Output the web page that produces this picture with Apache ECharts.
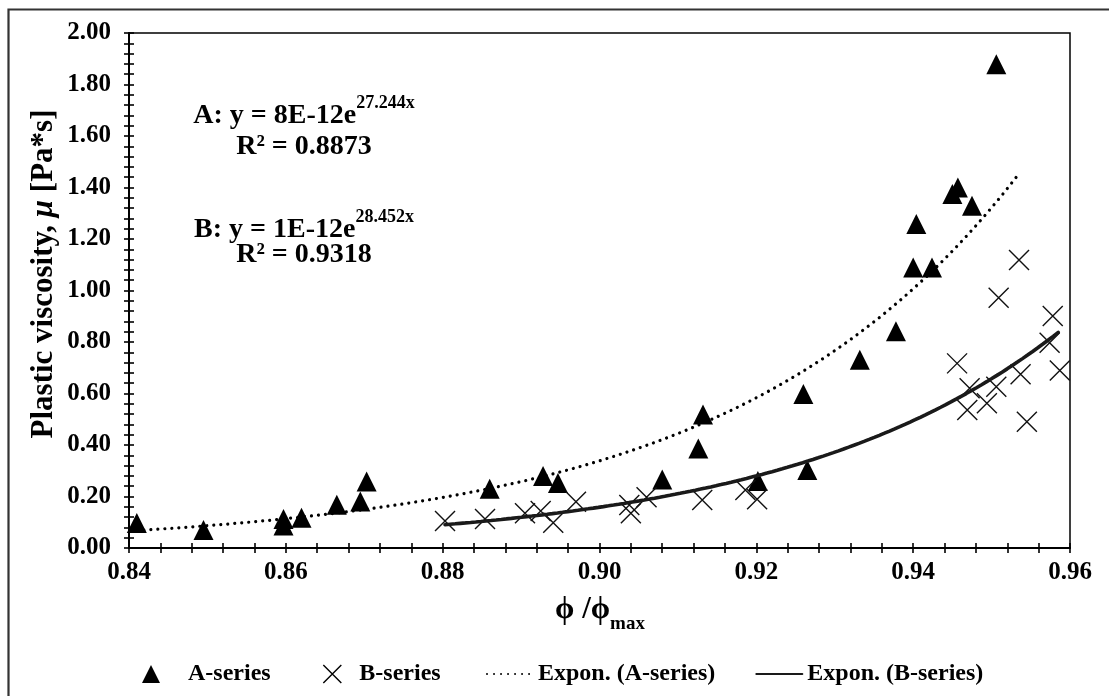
<!DOCTYPE html>
<html>
<head>
<meta charset="utf-8">
<script src="https://cdn.jsdelivr.net/npm/echarts@6/dist/echarts.min.js"></script>
<style>
  html, body { margin: 0; padding: 0; background: #fff; overflow: hidden; }
  #chart { width: 1109px; height: 696px; }
</style>
</head>
<body>
<div id="chart"></div>
<script>
// phi/phi_max and plastic viscosity [Pa*s], A-series mixes
const aPhi = [0.841, 0.8495, 0.8597, 0.8597, 0.862, 0.8665, 0.8695, 0.8703,
              0.886, 0.8928, 0.8947, 0.908, 0.9126, 0.9132, 0.9202, 0.926, 0.9265,
              0.9332, 0.9378, 0.940, 0.9404, 0.9424, 0.945, 0.9457, 0.9475, 0.9506];
const aMu  = [0.097, 0.070, 0.113, 0.087, 0.117, 0.168, 0.181, 0.258,
              0.230, 0.280, 0.252, 0.266, 0.386, 0.518, 0.260, 0.598, 0.303,
              0.731, 0.842, 1.089, 1.258, 1.089, 1.375, 1.400, 1.329, 1.879];

// phi/phi_max and plastic viscosity [Pa*s], B-series mixes
const bPhi = [0.8803, 0.8854, 0.8905, 0.8925, 0.8941, 0.897, 0.9038, 0.904,
              0.906, 0.9131, 0.9186, 0.9201, 0.9456, 0.9469, 0.9472, 0.9494,
              0.9506, 0.9509, 0.9535, 0.9537, 0.9545, 0.9574, 0.9578, 0.9587];
const bMu  = [0.105, 0.113, 0.135, 0.144, 0.098, 0.180, 0.167, 0.135,
              0.197, 0.186, 0.225, 0.189, 0.717, 0.536, 0.620, 0.562,
              0.626, 0.972, 1.118, 0.675, 0.490, 0.797, 0.901, 0.689];

// exponential trend lines y = a * e^(b x); the label prints a to one significant digit
const aTrend = { a: 7.6e-12, b: 27.244, r2: 0.8873, from: 0.841, to: 0.9533 };
const bTrend = { a: 1.2e-12, b: 28.452, r2: 0.9318, from: 0.8803, to: 0.9585 };

// axis ranges and tick spacing
const xRange = { min: 0.84, max: 0.96, step: 0.02 };
const yRange = { min: 0.0, max: 2.0, step: 0.2 };

const SERIF = '"Liberation Serif", "Times New Roman", serif';
const INK = '#000';

function trendPoints(t, n) {
  const pts = [];
  for (let i = 0; i <= n; i++) {
    const x = t.from + (t.to - t.from) * i / n;
    pts.push([x, t.a * Math.exp(t.b * x)]);
  }
  return pts;
}
const zip = (xs, ys) => xs.map((x, i) => [x, ys[i]]);
const coefText = a => a.toExponential(0).replace('e', 'E');

const crossPath = 'path://M0,0L20,20M20,0L0,20';

const chart = echarts.init(document.getElementById('chart'), null, { renderer: 'canvas' });

function axisPair(range, isX) {
  const base = {
    type: 'value', min: range.min, max: range.max, interval: range.step,
    splitLine: { show: false }
  };
  const main = Object.assign({}, base, {
    position: isX ? 'bottom' : 'left',
    axisLine: { show: true, onZero: false, lineStyle: { color: INK, width: 2 } },
    axisTick: { show: true, inside: false, length: 5, lineStyle: { color: INK, width: 1.6 } },
    minorTick: { show: true, splitNumber: 5, length: 5, lineStyle: { color: INK, width: 1.6 } },
    axisLabel: {
      show: true, margin: isX ? 12 : 18, color: INK,
      fontFamily: SERIF, fontWeight: 'bold', fontSize: 25,
      formatter: v => v.toFixed(2)
    }
  });
  const inner = Object.assign({}, base, {
    position: isX ? 'bottom' : 'left',
    axisLine: { show: false, onZero: false },
    axisTick: { show: true, inside: true, length: 5, lineStyle: { color: INK, width: 1.6 } },
    minorTick: { show: true, splitNumber: 5, length: 5, lineStyle: { color: INK, width: 1.6 } },
    axisLabel: { show: false }
  });
  return [main, inner];
}

const eqRich = {
  b: { fontFamily: SERIF, fontWeight: 'bold', fontSize: 28, color: INK, padding: [8, 0, 0, 0], verticalAlign: 'bottom' },
  s: { fontFamily: SERIF, fontWeight: 'bold', fontSize: 18, color: INK, verticalAlign: 'top' }
};

function eqText(prefix, t, cx, cy, cyR2) {
  return [
    {
      type: 'text', x: cx, y: cy, z: 50,
      style: {
        text: '{b|' + prefix + ': y = ' + coefText(t.a) + 'e}{s|' + t.b.toFixed(3) + 'x}',
        rich: eqRich, align: 'center', verticalAlign: 'middle',
        textAlign: 'center', textVerticalAlign: 'middle'
      }
    },
    {
      type: 'text', x: cx, y: cyR2, z: 50,
      style: {
        text: 'R² = ' + t.r2.toFixed(4),
        fontFamily: SERIF, fontWeight: 'bold', fontSize: 28, fill: INK,
        align: 'center', verticalAlign: 'middle',
        textAlign: 'center', textVerticalAlign: 'middle'
      }
    }
  ];
}

const legendText = { fontFamily: SERIF, fontWeight: 'bold', fontSize: 24, color: INK };
const hiddenDot = { color: 'rgba(0,0,0,0)', borderColor: 'rgba(0,0,0,0)', borderWidth: 0 };

const option = {
  animation: false,
  backgroundColor: '#fff',
  grid: {
    left: 129, top: 33, right: 39, bottom: 148,
    show: true, borderColor: INK, borderWidth: 1.5,
    containLabel: false, outerBoundsMode: 'none'
  },
  xAxis: axisPair(xRange, true),
  yAxis: axisPair(yRange, false),
  legend: [
    {
      left: 137, top: 657, orient: 'horizontal',
      itemWidth: 18, itemHeight: 18, itemGap: 52, selectedMode: false,
      textStyle: legendText,
      data: [
        { name: 'A-series', icon: 'triangle', itemStyle: { color: INK },
          textStyle: Object.assign({ padding: [0, 0, 0, 23] }, legendText) },
        { name: 'B-series', icon: crossPath,
          itemStyle: { color: 'rgba(0,0,0,0)', borderColor: INK, borderWidth: 1.4 },
          textStyle: Object.assign({ padding: [0, 0, 0, 13] }, legendText) }
      ]
    },
    {
      left: 481, top: 657, orient: 'horizontal',
      itemWidth: 46, itemHeight: 14, itemGap: 40, selectedMode: false,
      textStyle: legendText,
      data: [
        { name: 'Expon. (A-series)', itemStyle: hiddenDot,
          textStyle: Object.assign({ padding: [0, 0, 0, 0] }, legendText) },
        { name: 'Expon. (B-series)', itemStyle: hiddenDot,
          textStyle: Object.assign({ padding: [0, 0, 0, 0] }, legendText) }
      ]
    }
  ],
  series: [
    {
      name: 'A-series', type: 'scatter', xAxisIndex: 0, yAxisIndex: 0,
      symbol: 'triangle', symbolSize: 20,
      itemStyle: { color: INK, opacity: 1 },
      data: zip(aPhi, aMu), z: 3
    },
    {
      name: 'B-series', type: 'scatter', xAxisIndex: 0, yAxisIndex: 0,
      symbol: crossPath, symbolSize: 20,
      itemStyle: { color: 'rgba(0,0,0,0)', borderColor: '#111', borderWidth: 1.4, opacity: 1 },
      data: zip(bPhi, bMu), z: 3
    },
    {
      name: 'Expon. (A-series)', type: 'line', xAxisIndex: 0, yAxisIndex: 0,
      showSymbol: false, symbol: 'none', smooth: false, silent: true,
      lineStyle: { color: INK, width: 3.2, type: [0.01, 7], cap: 'round' },
      itemStyle: { color: INK },
      data: trendPoints(aTrend, 120), z: 4
    },
    {
      name: 'Expon. (B-series)', type: 'line', xAxisIndex: 0, yAxisIndex: 0,
      showSymbol: false, symbol: 'none', smooth: false, silent: true,
      lineStyle: { color: '#1a1a1a', width: 3.6, type: 'solid', cap: 'round' },
      itemStyle: { color: '#1a1a1a' },
      data: trendPoints(bTrend, 120), z: 4
    }
  ],
  graphic: [
    // chart area frame; its right and bottom edges lie past the canvas
    {
      type: 'rect', z: 0, silent: true,
      shape: { x: 8.5, y: 9.5, width: 1200, height: 800 },
      style: { fill: 'none', stroke: '#333', lineWidth: 2.2 }
    },
    ...eqText('A', aTrend, 304, 112, 147),
    ...eqText('B', bTrend, 304, 226, 255),
    // y axis title
    {
      type: 'text', x: 44, y: 274, rotation: Math.PI / 2, z: 50,
      style: {
        text: '{b|Plastic viscosity, }{i|μ}{b| [Pa*s]}',
        rich: {
          b: { fontFamily: SERIF, fontWeight: 'bold', fontSize: 31, color: INK },
          i: { fontFamily: SERIF, fontWeight: 'bold', fontStyle: 'italic', fontSize: 31, color: INK }
        },
        align: 'center', verticalAlign: 'middle',
        textAlign: 'center', textVerticalAlign: 'middle'
      }
    },
    // x axis title
    {
      type: 'text', x: 600, y: 614, z: 50,
      style: {
        text: '{b|ϕ /ϕ}{s|max}',
        rich: {
          b: { fontFamily: SERIF, fontWeight: 'bold', fontSize: 31, color: INK, padding: [0, 0, 8, 0], verticalAlign: 'top' },
          s: { fontFamily: SERIF, fontWeight: 'bold', fontSize: 19, color: INK, verticalAlign: 'bottom' }
        },
        align: 'center', verticalAlign: 'middle',
        textAlign: 'center', textVerticalAlign: 'middle'
      }
    }
  ]
};

chart.setOption(option);
</script>
</body>
</html>
